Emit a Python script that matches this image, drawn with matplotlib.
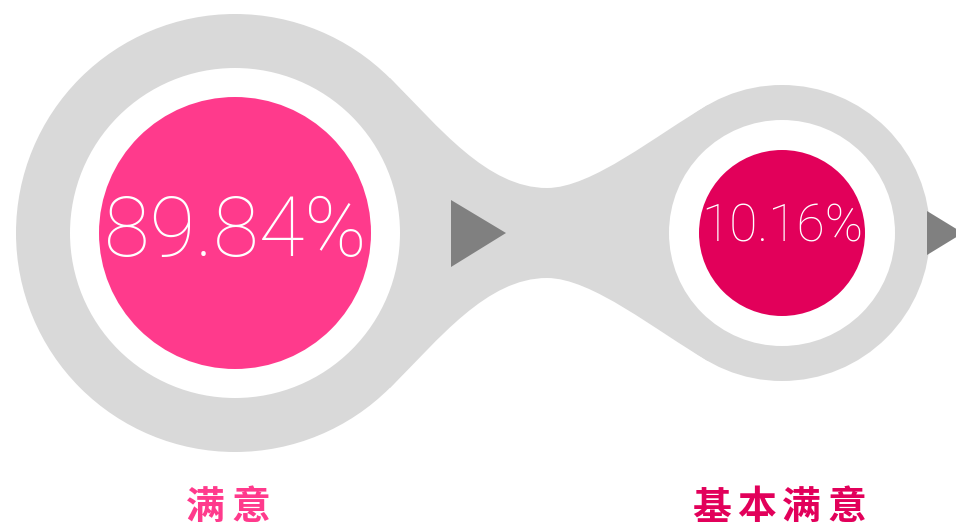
import numpy as np
import matplotlib
matplotlib.use('Agg')
import matplotlib.pyplot as plt
from matplotlib.patches import Circle, Polygon, PathPatch
from matplotlib.path import Path

### -------------------------------------------------------------------------------------------------------------------
### Data
### -------------------------------------------------------------------------------------------------------------------

categories = ['满意', '基本满意']
percentValues = [89.84, 10.16]
fillColors = ['#ff3a8c', '#e2005a']

grayColor = '#d9d9d9'
arrowColor = '#808080'

# layout (pixel coordinates, y down)
centers = [(235, 233), (782, 233)]
outerRadii = [219, 148]
whiteRadii = [165, 113]
innerRadii = [136, 83]
valueFontSizes = [60, 37]
labelCenters = [228, 779]
labelY = 508
charStep = 45


### -------------------------------------------------------------------------------------------------------------------

def NeckPath(cy):
    p0 = (390, 78)
    n = (547, 188)
    p3 = (708, 105)
    topPts = [p0, (439, 127), (487, 188), n, (592, 188), (656, 135), p3]

    def mirror(p):
        return (p[0], 2 * cy - p[1])

    botPts = [mirror(p) for p in reversed(topPts)]
    verts = topPts + botPts + [p0]
    codes = [Path.MOVETO] + [Path.CURVE4] * 6 + [Path.LINETO] + [Path.CURVE4] * 6 + [Path.CLOSEPOLY]
    return Path(verts, codes)


fig = plt.figure(figsize=(9.56, 5.28), dpi=100)
ax = fig.add_axes([0, 0, 1, 1])
ax.set_xlim(0, 956)
ax.set_ylim(528, 0)
ax.set_aspect('equal')
ax.axis('off')

# gray body
ax.add_patch(PathPatch(NeckPath(233), facecolor=grayColor, edgecolor='none', zorder=1))
for i in range(len(categories)):
    ax.add_patch(Circle(centers[i], outerRadii[i], facecolor=grayColor, edgecolor='none', zorder=1))
    ax.add_patch(Circle(centers[i], whiteRadii[i], facecolor='white', edgecolor='none', zorder=2))
    ax.add_patch(Circle(centers[i], innerRadii[i], facecolor=fillColors[i], edgecolor='none', zorder=3))
    ax.text(centers[i][0], centers[i][1] - (0 if i == 0 else 5), '%.2f%%' % percentValues[i],
            color='white', fontsize=valueFontSizes[i], fontweight='light',
            family=['Roboto', 'DejaVu Sans'], ha='center', va='center', zorder=4)

    # category label, drawn char by char for the wide letter spacing
    label = categories[i]
    x0 = labelCenters[i] - charStep * (len(label) - 1) / 2
    for j, ch in enumerate(label):
        ax.text(x0 + j * charStep, labelY, ch, color=fillColors[i], fontsize=28,
                fontweight='bold', family=['Noto Sans CJK SC', 'DejaVu Sans'],
                ha='center', va='center', zorder=4)

# arrows
ax.add_patch(Polygon([(451, 200), (451, 267), (506, 233)], closed=True,
                     facecolor=arrowColor, edgecolor='none', zorder=4))
ax.add_patch(Polygon([(927, 211), (927, 255), (963, 233)], closed=True,
                     facecolor=arrowColor, edgecolor='none', zorder=4))

fig.savefig('out.png', dpi=100)
